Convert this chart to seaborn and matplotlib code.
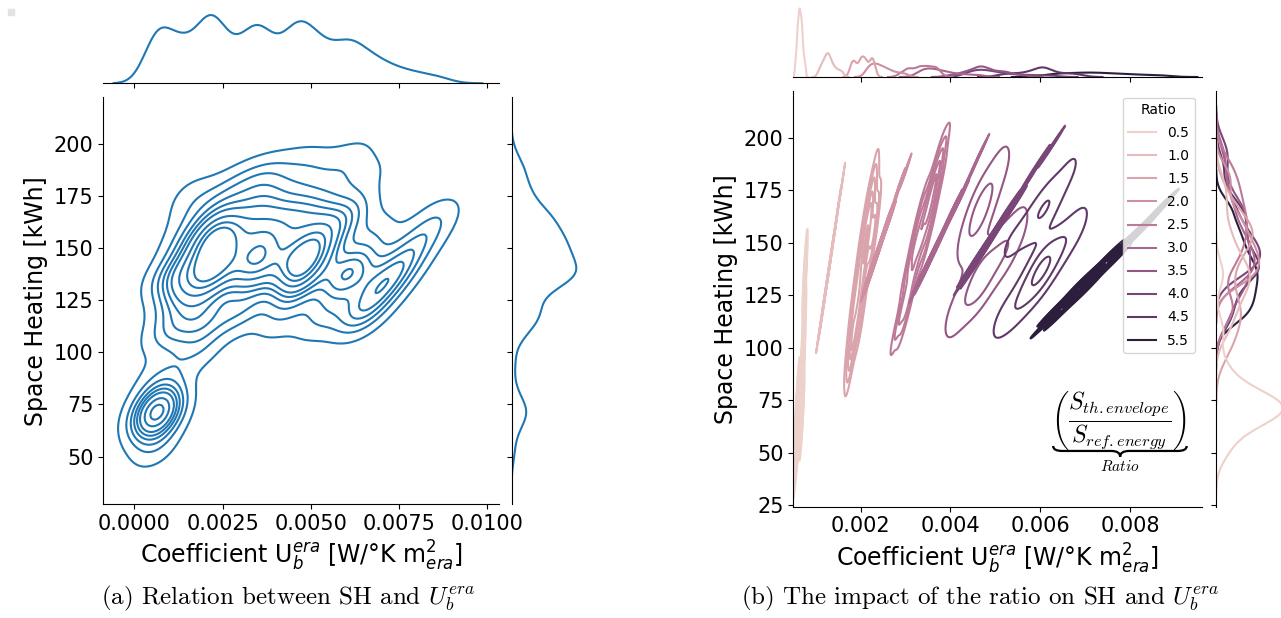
import numpy as np
import pandas as pd
import matplotlib
matplotlib.use("Agg")
import matplotlib.pyplot as plt
import seaborn as sns
from matplotlib.path import Path
from matplotlib.patches import PathPatch, Rectangle
from matplotlib.lines import Line2D

#### Data: samples of (U_b^era, space heating) per surface ratio
ratio_levels = [0.5, 1.0, 1.5, 2.0, 2.5, 3.0, 3.5, 4.0, 4.5, 5.5]
# ratios whose cloud is a wide ellipse vs. a narrow band
loop_ratios = [0.5, 1.5, 2.5, 3.5, 4.5]
band_ratios = [1.0, 2.0, 3.0, 4.0, 5.5]

u_r05 = [0.00055, 0.00058, 0.00060, 0.00061, 0.00062, 0.00063, 0.00064, 0.00064, 0.00065,
         0.00066, 0.00067, 0.00068, 0.00069, 0.00071, 0.00073, 0.00076, 0.00059, 0.00069]
sh_r05 = [50, 57, 62, 65, 67, 69, 71, 72, 73, 75, 77, 80, 84, 92, 108, 135, 74, 68]

u_r10 = [0.00108, 0.00113, 0.00117, 0.00120, 0.00123, 0.00125, 0.00127,
         0.00129, 0.00131, 0.00134, 0.00138, 0.00143, 0.00150, 0.00158]
sh_r10 = [108.0, 113.7, 120.8, 123.6, 129.3, 130.7, 135.0,
          136.4, 140.6, 143.5, 150.6, 156.3, 167.6, 177.6]

u_r15 = [0.002115, 0.002228, 0.002117, 0.002134, 0.002259, 0.002004, 0.002301,
         0.002254, 0.002268, 0.001968, 0.001835, 0.001872, 0.001786, 0.002008,
         0.001885, 0.001804, 0.002050, 0.002049]
sh_r15 = [149.7, 155.2, 161.5, 155.5, 166.9, 146.1, 158.9,
          174.8, 151.1, 120.6, 115.1, 109.0, 103.4, 116.5,
          126.7, 97.4, 140.0, 134.1]

u_r20 = [0.00214, 0.00218, 0.00222, 0.00226, 0.00230, 0.00234, 0.00238, 0.00242,
         0.00247, 0.00252, 0.00258, 0.00265, 0.00274, 0.00286, 0.00300]
sh_r20 = [130.5, 134.6, 134.1, 138.8, 140.0, 144.7, 144.3, 148.3,
          152.5, 153.6, 159.9, 161.4, 168.6, 177.2, 184.1]

u_r25 = [0.003400, 0.003526, 0.003274, 0.003476, 0.003324, 0.003633, 0.003167, 0.003658,
         0.003308, 0.003492, 0.003760, 0.003020, 0.003035, 0.002885, 0.003690, 0.003110]
sh_r25 = [158.0, 163.3, 152.7, 169.4, 146.6, 176.4, 139.6, 184.2,
          162.4, 153.6, 187.5, 122.7, 118.7, 115.5, 174.2, 141.8]

u_r30 = [0.00330, 0.00336, 0.00342, 0.00348, 0.00354, 0.00360, 0.00367,
         0.00374, 0.00382, 0.00392, 0.00404, 0.00420, 0.00440, 0.00465]
sh_r30 = [131.1, 135.0, 135.3, 139.7, 141.4, 145.8, 146.5,
          150.8, 155.2, 158.1, 165.5, 170.2, 180.4, 192.2]

u_r35 = [0.00430, 0.00450, 0.00462, 0.00470, 0.00478, 0.00495, 0.00520, 0.00400, 0.00425,
         0.00445, 0.00458, 0.00468, 0.00476, 0.00488, 0.00505, 0.00520, 0.00535, 0.00560]
sh_r35 = [148, 158, 163, 167, 170, 179, 190, 112, 120,
          126, 130, 133, 135, 139, 143, 147, 151, 160]

u_r40 = [0.00438, 0.00445, 0.00452, 0.00459, 0.00466, 0.00473, 0.00480, 0.00488,
         0.00497, 0.00508, 0.00522, 0.00540, 0.00563, 0.00592, 0.00625]
sh_r40 = [135.0, 138.8, 138.1, 142.6, 143.5, 148.0, 147.4, 151.5,
          155.5, 157.1, 164.2, 167.2, 176.3, 186.9, 195.8]

u_r45 = [0.0053, 0.0057, 0.0060, 0.0061, 0.0063, 0.0067, 0.0051, 0.0054, 0.0056,
         0.0058, 0.0059, 0.0060, 0.0061, 0.0062, 0.0064, 0.0066, 0.0069, 0.00605]
sh_r45 = [148, 157, 164, 166, 172, 186, 112, 118, 124,
          130, 134, 137, 139, 141, 146, 152, 160, 138]

u_r55 = [0.00615, 0.00630, 0.00645, 0.00660, 0.00675, 0.00688, 0.00700, 0.00712,
         0.00724, 0.00736, 0.00750, 0.00765, 0.00782, 0.00800, 0.00822, 0.00850, 0.00872]
sh_r55 = [112.3, 117.9, 116.1, 122.8, 124.0, 130.8, 127.3, 132.9,
          136.9, 136.5, 143.5, 141.6, 147.8, 152.6, 155.3, 162.2, 167.9]

u_all = [u_r05, u_r10, u_r15, u_r20, u_r25, u_r30, u_r35, u_r40, u_r45, u_r55]
sh_all = [sh_r05, sh_r10, sh_r15, sh_r20, sh_r25, sh_r30, sh_r35, sh_r40, sh_r45, sh_r55]

frames = []
for r, u, sh in zip(ratio_levels, u_all, sh_all):
    frames.append(pd.DataFrame({"U": u, "SH": sh, "Ratio": r}))
df = pd.concat(frames, ignore_index=True)

xlabel = r"Coefficient U$_b^{era}$ [W/°K m$_{era}^2$]"
ylabel = "Space Heating [kWh]"
hue_norm = (min(ratio_levels), max(ratio_levels))
cmap = sns.color_palette("ch:", as_cmap=True)


def style_joint(ax_j, ax_mx, ax_my):
    for s in ["top", "right"]:
        ax_j.spines[s].set_visible(False)
    for s in ["top", "right", "left"]:
        ax_mx.spines[s].set_visible(False)
    for s in ["top", "right", "bottom"]:
        ax_my.spines[s].set_visible(False)
    ax_mx.tick_params(axis="x", labelbottom=False)
    ax_mx.tick_params(axis="y", left=False, labelleft=False)
    ax_my.tick_params(axis="y", labelleft=False)
    ax_my.tick_params(axis="x", bottom=False, labelbottom=False)
    ax_mx.set_xlabel("")
    ax_mx.set_ylabel("")
    ax_my.set_xlabel("")
    ax_my.set_ylabel("")
    ax_j.tick_params(labelsize=15)
    ax_j.set_xlabel(xlabel, fontsize=17)
    ax_j.set_ylabel(ylabel, fontsize=17)


fig = plt.figure(figsize=(12.81, 6.18), dpi=100)

###### (a) all data
ax_a = fig.add_axes([0.0806, 0.1845, 0.3087, 0.6581])
ax_ax = fig.add_axes([0.0806, 0.8652, 0.3087, 0.1159], sharex=ax_a)
ax_ay = fig.add_axes([0.3993, 0.1845, 0.0531, 0.6581], sharey=ax_a)

sns.kdeplot(data=df, x="U", y="SH", ax=ax_a, bw_adjust=0.6, linewidths=1.5)
sns.kdeplot(data=df, x="U", ax=ax_ax, bw_adjust=0.5, linewidth=1.5)
sns.kdeplot(data=df, y="SH", ax=ax_ay, bw_adjust=0.5, linewidth=1.5)

ax_a.set_xlim(-0.00088, 0.01032)
ax_a.set_ylim(27.3, 222.2)
ax_a.set_xticks([0.0, 0.0025, 0.005, 0.0075, 0.01])
ax_a.set_yticks([50, 75, 100, 125, 150, 175, 200])
style_joint(ax_a, ax_ax, ax_ay)

###### (b) by ratio
ax_b = fig.add_axes([0.6193, 0.1801, 0.3189, 0.6731])
ax_bx = fig.add_axes([0.6193, 0.8754, 0.3189, 0.1165], sharex=ax_b)
ax_by = fig.add_axes([0.9494, 0.1801, 0.0546, 0.6731], sharey=ax_b)

loops = df[df["Ratio"].isin(loop_ratios)]
sns.kdeplot(data=loops, x="U", y="SH", hue="Ratio", hue_norm=hue_norm, ax=ax_b,
            bw_adjust=0.8, linewidths=1.5, legend=False, warn_singular=False)
# narrow bands: each one drawn with its own set of levels
for r in band_ratios:
    sns.kdeplot(data=df[df["Ratio"] == r], x="U", y="SH", hue="Ratio", hue_norm=hue_norm,
                ax=ax_b, bw_adjust=0.45, cut=2, linewidths=1.4, legend=False,
                warn_singular=False)
sns.kdeplot(data=df, x="U", hue="Ratio", ax=ax_bx, bw_adjust=0.6,
            linewidth=1.5, legend=False, warn_singular=False)
sns.kdeplot(data=df, y="SH", hue="Ratio", ax=ax_by, bw_adjust=0.6,
            linewidth=1.5, legend=False, warn_singular=False)

ax_b.set_xlim(0.0005, 0.0096)
ax_b.set_ylim(24.3, 222.5)
ax_b.set_xticks([0.002, 0.004, 0.006, 0.008])
ax_b.set_yticks([25, 50, 75, 100, 125, 150, 175, 200])
style_joint(ax_b, ax_bx, ax_by)

handles = [Line2D([], [], color=cmap((r - hue_norm[0]) / (hue_norm[1] - hue_norm[0])), lw=1.5)
           for r in ratio_levels]
ax_b.legend(handles, [str(r) for r in ratio_levels], title="Ratio", loc="upper right",
            fontsize=10, title_fontsize=10, labelspacing=0.65)

# ratio definition with underbrace
ax_b.text(0.796, 0.208, r"$\left(\dfrac{S_{th.envelope}}{S_{ref.energy}}\right)$",
          transform=ax_b.transAxes, ha="center", va="center", fontsize=17,
          math_fontfamily="cm")
x0, x1, xm = 0.636, 0.963, 0.80
yt, ym, yb, r = 0.146, 0.134, 0.120, 0.022
verts = [(x0, yt), (x0, ym), (x0 + r, ym), (xm - r, ym), (xm, ym), (xm, yb),
         (xm, ym), (xm + r, ym), (x1 - r, ym), (x1, ym), (x1, yt)]
codes = [Path.MOVETO, Path.CURVE3, Path.CURVE3, Path.LINETO, Path.CURVE3, Path.CURVE3,
         Path.CURVE3, Path.CURVE3, Path.LINETO, Path.CURVE3, Path.CURVE3]
ax_b.add_patch(PathPatch(Path(verts, codes), transform=ax_b.transAxes, fill=False,
                         lw=1.6, color="black", clip_on=False))
ax_b.text(0.80, 0.096, r"$Ratio$", transform=ax_b.transAxes, ha="center",
          va="center", fontsize=11, math_fontfamily="cm")

###### captions
fig.text(0.2244, 0.0324, r"(a) Relation between SH and $U_b^{era}$", ha="center",
         va="center", fontsize=18, family="cmr10", math_fontfamily="cm")
fig.text(0.7648, 0.0324, r"(b) The impact of the ratio on SH and $U_b^{era}$",
         ha="center", va="center", fontsize=18, family="cmr10", math_fontfamily="cm")

fig.patches.append(Rectangle((8 / 1281, 1 - 15 / 618), 6 / 1281, 6 / 618,
                             transform=fig.transFigure, color="#e3e3e3"))

fig.savefig("out.png", dpi=100)
